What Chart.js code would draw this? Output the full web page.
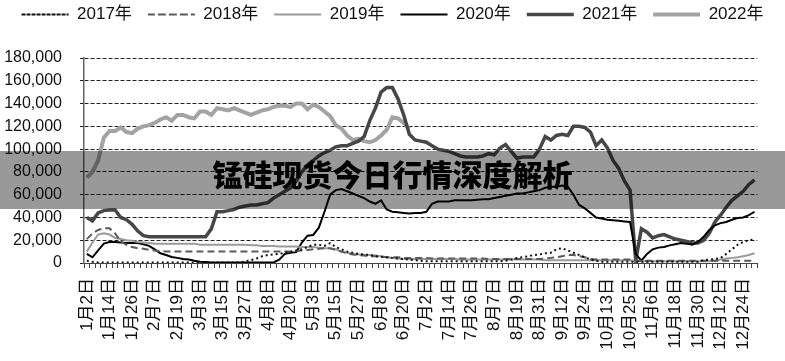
<!DOCTYPE html>
<html>
<head>
<meta charset="utf-8">
<script src="https://cdn.jsdelivr.net/npm/chart.js@4.4.0/dist/chart.umd.min.js"></script>
<style>
  html, body { margin: 0; padding: 0; background: #fff; }
  #wrap { position: relative; width: 785px; height: 361px; }
  #band {
    position: absolute; left: 0; top: 151px; width: 785px; height: 58px;
    background: rgba(0, 0, 0, 0.4);
    text-align: center; line-height: 58px;
    font: 900 30px "Noto Sans CJK SC", sans-serif; color: #000;
  }
</style>
</head>
<body>
<div id="wrap">
  <canvas id="chart" width="785" height="361"></canvas>
  <div id="band">锰硅现货今日行情深度解析</div>
</div>
<script>
// tick labels on the x axis (one every 4 points)
const tickDates = ['1月2日', '1月14日', '1月26日', '2月7日', '2月19日', '3月3日', '3月15日', '3月27日',
  '4月8日', '4月20日', '5月3日', '5月15日', '5月27日', '6月8日', '6月20日', '7月2日', '7月14日',
  '7月26日', '8月7日', '8月19日', '8月31日', '9月12日', '9月24日', '10月13日', '10月25日', '11月6日',
  '11月18日', '11月30日', '12月12日', '12月24日'];
const seriesNames = ['2017年', '2018年', '2019年', '2020年', '2021年', '2022年'];

// values, 119 points per year
const y2017 = [2000, 1000, 500, 500, 500, 500, 500, 500, 500, 500, 500, 500, 500, 500, 500, 500, 500, 500, 500, 500,
  500, 500, 500, 500, 500, 500, 500, 500, 1500, 2500, 4000, 6000, 7000, 7500, 8000, 9000, 10000, 11000, 12000, 14000,
  16000, 16000, 15000, 17500, 14000, 12000, 10000, 9000, 8000, 7500, 7000, 6000, 5500, 5000, 4500, 4000, 3500, 3000, 2500, 2000,
  1500, 1500, 1500, 1500, 1500, 1500, 1500, 1500, 1500, 1500, 1500, 1500, 1500, 1500, 2000, 3000, 4400, 5000, 6000, 7000,
  7500, 8500, 9000, 12000, 13000, 11000, 9000, 7000, 5000, 3000, 2000, 1000, 1000, 1000, 1000, 1000, 1000, 1000, 1000, 1000,
  1000, 1000, 1000, 1000, 1000, 1000, 1000, 1000, 1000, 2500, 3000, 3500, 4400, 8000, 12000, 16000, 18500, 20000, 20500];

const y2018 = [21000, 26000, 29000, 30500, 30500, 26000, 19000, 16000, 14000, 13000, 12500, 11500, 11000, 10500, 10000, 10000, 10000, 10000, 10000, 10000,
  10000, 10000, 10000, 10000, 10000, 10000, 10000, 10000, 10000, 10000, 10000, 10000, 10000, 10000, 10000, 10000, 10000, 10500, 11000, 11500,
  12000, 12500, 13000, 13000, 11500, 10000, 8500, 7500, 7000, 6500, 6000, 6000, 5500, 5000, 5000, 5000, 4500, 4500, 4500, 4500,
  4500, 4000, 4000, 4000, 4000, 4000, 4000, 4000, 4000, 4000, 4000, 3500, 3500, 3500, 3500, 3500, 3500, 3500, 3500, 3500,
  3500, 4000, 4500, 5000, 6000, 7000, 7000, 6000, 5000, 3500, 3000, 3000, 3000, 3000, 3000, 3000, 3000, 2000, 2000, 2000,
  2000, 2000, 2000, 2000, 2000, 2000, 2000, 2000, 2000, 2000, 2000, 2000, 2000, 2000, 2000, 2000, 2000, 2000, 2000];

const y2019 = [10000, 18000, 25000, 26000, 25000, 22000, 21000, 20000, 19500, 18500, 18000, 17500, 17000, 17000, 17000, 17000, 17000, 17000, 17000, 17000,
  16000, 16000, 16000, 16000, 16000, 16000, 16000, 16000, 16000, 15500, 15500, 15000, 15000, 15000, 14500, 14500, 14500, 14500, 14000, 14000,
  14000, 13500, 13000, 13000, 12000, 10000, 9000, 8000, 7500, 7000, 7000, 6500, 6000, 5000, 4500, 4000, 3500, 3500, 3500, 3500,
  3500, 3500, 3500, 3500, 3500, 3500, 3000, 3000, 3000, 3000, 3000, 3000, 3000, 3000, 3000, 3000, 3000, 3000, 3000, 3000,
  3000, 2500, 2500, 2500, 2500, 2500, 2500, 2500, 2500, 2500, 2500, 2500, 2500, 2500, 2500, 2500, 2500, 1500, 1500, 1500,
  1500, 1500, 1500, 1500, 1500, 1500, 1500, 1500, 1500, 1500, 1500, 2000, 3000, 4000, 4500, 5000, 6000, 7000, 8500];

const y2020 = [8000, 5000, 11000, 17000, 18500, 18500, 18000, 17600, 17600, 17500, 16500, 15000, 12000, 8500, 7000, 5300, 4500, 3500, 3000, 2000,
  1200, 800, 500, 500, 500, 500, 500, 500, 500, 500, 500, 500, 500, 500, 3000, 8000, 9000, 9500, 18000, 24000,
  24600, 31000, 45000, 60000, 64000, 65000, 63000, 61000, 59000, 57000, 54000, 52000, 55000, 47000, 45000, 44500, 44000, 43500, 44000, 44000,
  45000, 52000, 54000, 54000, 54000, 55000, 55000, 55000, 55000, 55500, 56000, 56000, 57000, 58000, 59000, 60000, 61000, 61000, 62000, 63000,
  64000, 66000, 67000, 67000, 68000, 67000, 60000, 51000, 48000, 44000, 40000, 39000, 38000, 37500, 37000, 36500, 36000, 8000, 2000, 8000,
  12000, 13500, 14000, 15500, 16500, 17600, 17000, 16000, 18500, 23000, 29000, 33000, 35000, 36000, 38000, 39500, 40000, 42000, 45000];

const y2021 = [40000, 37000, 44000, 46000, 46500, 46500, 40000, 38000, 34000, 28000, 24000, 23000, 23000, 23000, 23000, 23000, 23000, 23000, 23000, 23000,
  23000, 23000, 30000, 45000, 45000, 46000, 47000, 49000, 50000, 51000, 51000, 52000, 53000, 57000, 60000, 63000, 66000, 72000, 80000, 86000,
  90000, 94000, 97000, 99000, 102000, 103000, 103000, 105000, 107000, 111000, 125000, 136000, 150000, 154000, 154000, 144000, 130000, 113000, 108000, 107000,
  106000, 103000, 100000, 99000, 98000, 96000, 94000, 93000, 93000, 93000, 94000, 96000, 95000, 101000, 104000, 98000, 92000, 93000, 93000, 93000,
  100000, 111000, 108000, 112000, 113000, 112000, 120000, 120000, 119000, 115000, 103000, 108000, 101000, 90000, 83000, 72000, 64000, 2000, 30000, 27000,
  22000, 24000, 25000, 23000, 21000, 20000, 19000, 17600, 17600, 20000, 26000, 36000, 42000, 49000, 55000, 59000, 63000, 69000, 73000];

// 2022 only runs to late June
const y2022 = [75000, 80000, 90000, 110000, 116000, 116000, 119000, 115000, 114000, 118000, 120000, 121000, 123000, 126000, 128000, 125000, 130000, 130000, 128000, 127000,
  133000, 133000, 130000, 136000, 135000, 134000, 136000, 134000, 132000, 130000, 132000, 134000, 135000, 137000, 138000, 138000, 137000, 140000, 140000, 135000,
  139000, 137000, 133000, 129000, 121000, 118000, 112000, 108000, 109000, 107000, 106000, 108000, 112000, 117000, 128000, 127000, 123000, 118000];

// category labels: a date every 4th point, blank in between
const categories = y2017.map((v, i) => (i % 4 === 0 ? tickDates[i / 4] : ''));

const fontFamily = '"Liberation Sans", "Noto Sans CJK SC", sans-serif';

function line(label, data, color, width, dash) {
  return {
    label: label,
    data: data,
    borderColor: color,
    backgroundColor: color,
    borderWidth: width,
    borderDash: dash,
    pointRadius: 0,
    tension: 0,
    fill: false,
    spanGaps: false
  };
}

// leave room between the legend row and the plot
const legendGap = {
  id: 'legendGap',
  beforeInit(chart) {
    const fit = chart.legend.fit;
    chart.legend.fit = function () {
      fit.call(this);
      this.height += 25;
    };
  }
};

const ctx = document.getElementById('chart');
const chart = new Chart(ctx, {
  type: 'line',
  data: {
    labels: categories,
    datasets: [
      line(seriesNames[0], y2017, '#111111', 2, [2, 3]),
      line(seriesNames[1], y2018, '#5a5a5a', 2, [7, 4]),
      line(seriesNames[2], y2019, '#9a9a9a', 2, []),
      line(seriesNames[3], y2020, '#000000', 2, []),
      line(seriesNames[4], y2021, '#474747', 3.5, []),
      line(seriesNames[5], y2022, '#a3a3a3', 4, [])
    ]
  },
  plugins: [legendGap],
  options: {
    responsive: false,
    animation: false,
    layout: { padding: { left: 0, right: 0, top: -10, bottom: 0 } },
    plugins: {
      tooltip: { enabled: false },
      legend: {
        position: 'top',
        labels: {
          boxWidth: 47,
          boxHeight: 0,
          padding: 16,
          color: '#111',
          font: { size: 17, family: fontFamily }
        }
      }
    },
    scales: {
      x: {
        offset: true,
        afterFit(scale) { scale.height = 98; },
        grid: { display: true, drawOnChartArea: false, tickLength: 5, color: '#444', offset: true },
        border: { display: true, color: '#444', width: 1 },
        ticks: {
          autoSkip: false,
          minRotation: 90,
          maxRotation: 90,
          padding: 10,
          color: '#111',
          font: { size: 17, family: fontFamily }
        }
      },
      y: {
        min: 0,
        max: 180000,
        afterFit(scale) { scale.width = 84; },
        ticks: {
          stepSize: 20000,
          padding: 18,
          color: '#111',
          font: { size: 16, family: fontFamily },
          callback: v => v.toLocaleString('en-US')
        },
        grid: { color: '#222', tickLength: 4 },
        border: { display: true, color: '#666', width: 1.5, dash: [4, 2] }
      },
      // empty strip on the right so the plot stops short of the edge
      yRight: {
        position: 'right',
        display: true,
        afterFit(scale) { scale.width = 18; },
        grid: { display: false },
        border: { display: false },
        ticks: { display: false }
      }
    }
  }
});
</script>
</body>
</html>
